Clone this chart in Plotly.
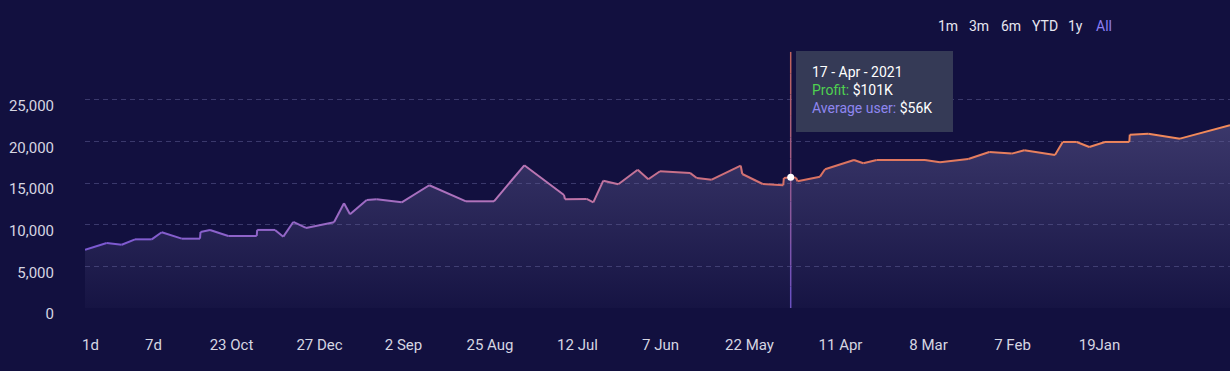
import plotly.graph_objects as go

# ---- data ----
t_vals = [0, 21.7, 36.7, 50, 66.7, 76.7, 96.7, 115, 115.5, 125, 143.3, 171.7, 172.2, 190,
          198.3, 208.3, 221, 249, 259, 265, 281.7, 291.7, 316.7, 344.3, 381, 409, 439.3,
          479, 480, 501.7, 508.3, 518.3, 533.3, 552.7, 563.3, 575, 605, 611.7, 626.7,
          655.7, 657.3, 677.7, 698.3, 698.8, 705.7, 711, 712.5, 735, 740, 769, 778.3,
          791.7, 840, 855, 883.3, 904.3, 926.7, 939.3, 970, 977.7, 991.7, 1004.3, 1020,
          1044.3, 1044.8, 1063.3, 1095, 1145]
profit = [7000, 7800, 7600, 8250, 8250, 9100, 8330, 8330, 9130, 9380, 8650, 8650, 9380, 9380,
          8570, 10340, 9620, 10300, 12580, 11260, 12980, 13060, 12700, 14750, 12820, 12820,
          17150, 13580, 13060, 13100, 12700, 15300, 14870, 16620, 15470, 16430, 16230, 15620,
          15420, 17100, 16100, 14900, 14750, 15620, 15700, 15650, 15230, 15780, 16670, 17790,
          17390, 17790, 17790, 17510, 17910, 18750, 18550, 18950, 18390, 19950, 19950, 19350,
          19950, 19950, 20830, 20950, 20350, 21960]

tick_pos = [5.5, 68.5, 146.5, 234.5, 318.5, 405, 492.5, 575.5, 664.5, 755.5, 843.5, 927.5, 1014.5]
tick_labels = ["1d", "7d", "23 Oct", "27 Dec", "2 Sep", "25 Aug", "12 Jul", "7 Jun",
               "22 May", "11 Apr", "8 Mar", "7 Feb", "19Jan"]
y_ticks = [0, 5000, 10000, 15000, 20000, 25000]

range_buttons = ["1m", "3m", "6m", "YTD", "1y", "All"]
button_pos = [863, 894, 926, 960, 990, 1019]

hover_index = 44
tooltip_date = "17 - Apr - 2021"
tooltip_profit = "$101K"
tooltip_avg = "$56K"

# ---- styling ----
BG = "#12103f"
FONT = "Roboto"

stops = [(0, (122, 88, 210)), (220, (150, 104, 198)), (440, (184, 118, 184)),
         (620, (204, 112, 128)), (720, (218, 114, 98)), (1145, (244, 140, 90))]


def grad_color(t):
    for (t0, c0), (t1, c1) in zip(stops[:-1], stops[1:]):
        if t <= t1:
            f = (t - t0) / (t1 - t0) if t1 > t0 else 0
            f = max(0, min(1, f))
            return "rgb(%d,%d,%d)" % tuple(round(a + (b - a) * f) for a, b in zip(c0, c1))
    return "rgb(%d,%d,%d)" % stops[-1][1]


fig = go.Figure()

# area fill
fig.add_trace(go.Scatter(
    x=t_vals, y=profit, mode="lines", line=dict(width=0), fill="tozeroy",
    fillgradient=dict(type="vertical", start=0, stop=22000,
                      colorscale=[[0, "rgba(100,95,150,0.05)"], [1, "rgba(100,95,150,0.5)"]]),
    hoverinfo="skip", showlegend=False))

# gradient line segments
for i in range(len(t_vals) - 1):
    tm = (t_vals[i] + t_vals[i + 1]) / 2
    fig.add_trace(go.Scatter(
        x=t_vals[i:i + 2], y=profit[i:i + 2], mode="lines",
        line=dict(color=grad_color(tm), width=2), hoverinfo="skip", showlegend=False))

# crosshair (gradient from orange top to purple bottom)
hx = t_vals[hover_index]
n_seg = 12
ytop = 30770
c_top = (196, 100, 90)
c_bot = (104, 80, 196)
for k in range(n_seg):
    y0 = ytop * k / n_seg
    y1 = ytop * (k + 1) / n_seg
    f = (k + 0.5) / n_seg
    col = "rgb(%d,%d,%d)" % tuple(round(b + (a - b) * f) for a, b in zip(c_top, c_bot))
    fig.add_trace(go.Scatter(x=[hx, hx], y=[y0, y1], mode="lines",
                             line=dict(color=col, width=1.5), hoverinfo="skip",
                             showlegend=False, cliponaxis=False))

fig.add_trace(go.Scatter(x=[hx], y=[profit[hover_index]], mode="markers",
                         marker=dict(color="white", size=7, line=dict(width=0)),
                         hoverinfo="skip", showlegend=False))

# tooltip box
shapes = [dict(type="rect", xref="x", yref="y", x0=711, x1=868, y0=21150, y1=30890,
               fillcolor="#353a56", line=dict(width=0), layer="above")]

annotations = []
annotations.append(dict(x=725, y=28365, xref="x", yref="y", xanchor="left", yanchor="middle",
                        text=tooltip_date, showarrow=False,
                        font=dict(family=FONT, size=14, color="#ffffff")))
annotations.append(dict(x=725, y=26200, xref="x", yref="y", xanchor="left", yanchor="middle",
                        text="<span style='color:#4fd150'>Profit:</span> " + tooltip_profit,
                        showarrow=False, font=dict(family=FONT, size=14, color="#ffffff")))
annotations.append(dict(x=725, y=24040, xref="x", yref="y", xanchor="left", yanchor="middle",
                        text="<span style='color:#8f86f0'>Average user:</span> " + tooltip_avg,
                        showarrow=False, font=dict(family=FONT, size=14, color="#ffffff")))

for lab, px in zip(range_buttons, button_pos):
    annotations.append(dict(x=px, y=(308 - 26) / 258, xref="x", yref="paper", xanchor="center",
                            yanchor="middle", text=lab, showarrow=False,
                            font=dict(family=FONT, size=14,
                                      color="#8b7ff5" if lab == "All" else "#e6e6f0")))

fig.update_layout(
    width=1230, height=371,
    margin=dict(l=85, r=0, t=50, b=63),
    paper_bgcolor=BG, plot_bgcolor=BG,
    font=dict(family=FONT, size=15, color="#d6d6e2"),
    showlegend=False,
    shapes=shapes,
    annotations=annotations,
    xaxis=dict(range=[0, 1145], tickvals=tick_pos, ticktext=tick_labels, showgrid=False,
               zeroline=False, showline=False, ticks="", ticklabelstandoff=26,
               tickfont=dict(family=FONT, size=15, color="#d6d6e2"), fixedrange=True),
    yaxis=dict(range=[0, 31000], tickvals=y_ticks, tickformat=",d", showgrid=True,
               gridcolor="#3a396c", griddash="5px,4px", gridwidth=1, zeroline=False,
               showline=False, ticks="", ticklabelstandoff=30, ticklabelshift=6,
               tickfont=dict(family=FONT, size=15, color="#d6d6e2"), fixedrange=True),
)

fig.write_html("out.html", config={"displayModeBar": False},
               post_script="document.body.style.margin='0';document.body.style.background='%s';" % BG)
